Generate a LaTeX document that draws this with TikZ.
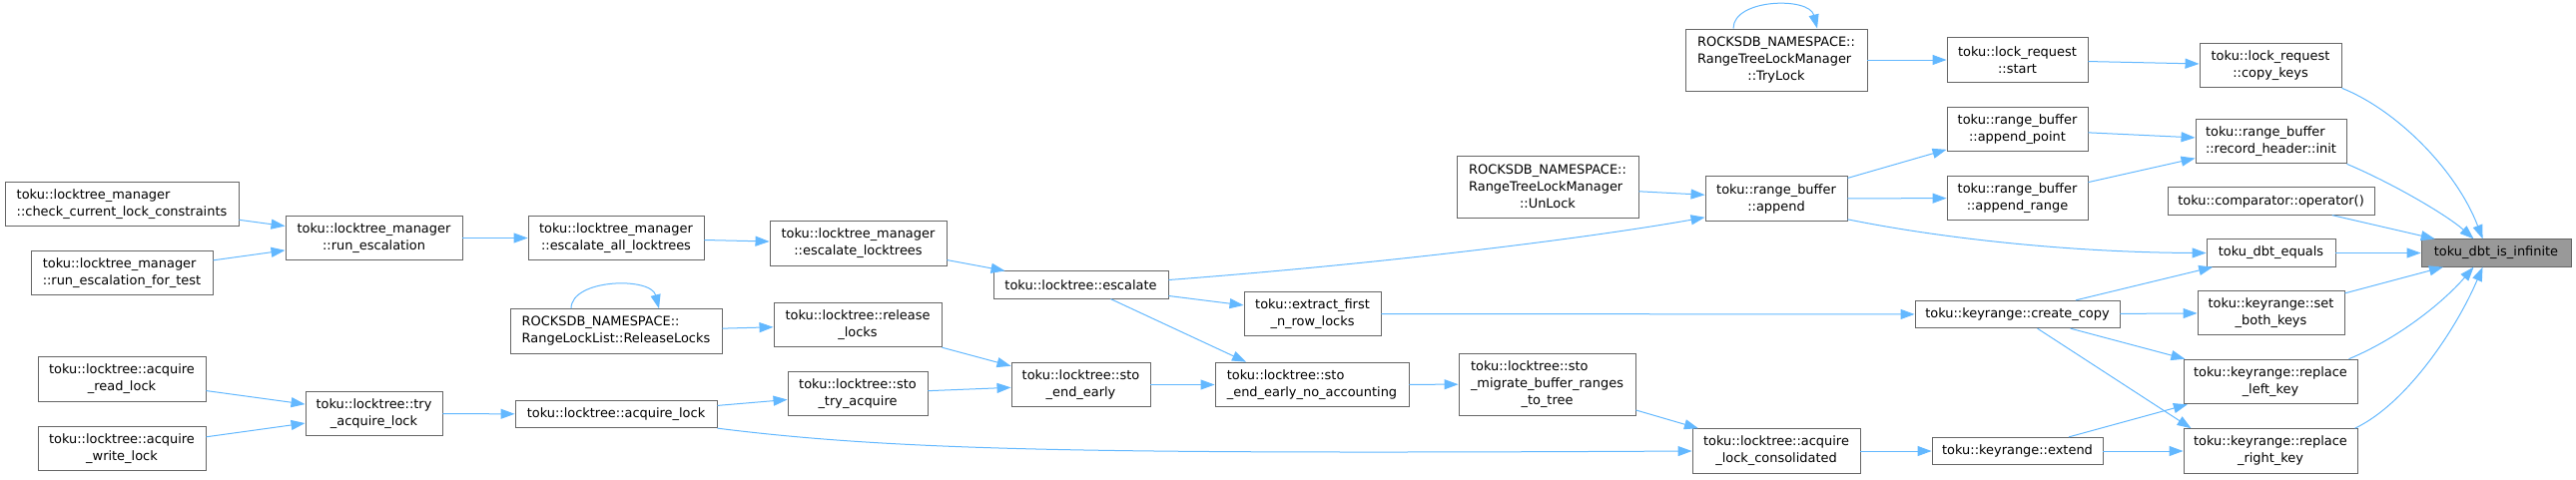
\documentclass[tikz,border=0pt]{standalone}
\usepackage{fontspec}
\setmainfont{DejaVu Sans}
\usepackage{calc}
\usetikzlibrary{arrows.meta,calc}
\definecolor{edgeblue}{HTML}{63B8FF}
\definecolor{boxgrey}{HTML}{666666}
\definecolor{hlgrey}{HTML}{999999}
\newcommand\fnfont{\fontsize{9.7}{12.75}\selectfont}
\tikzset{
	fn/.style = {draw = boxgrey, line width = 0.7pt, fill = white, inner xsep = 2pt, inner ysep = 1pt, minimum height = 20.5pt, font = \fnfont, align = center},
	tworow/.style = {minimum height = 33.5pt},
	threerow/.style = {minimum height = 46.5pt},
	hl/.style = {fill = hlgrey},
	call/.style = {draw = edgeblue, line width = 0.75pt, -{Triangle[length=10.5pt,width=7.5pt]}}
}
\begin{document}
\begin{tikzpicture}[x=0.75pt, y=-0.75pt]
	\useasboundingbox (0,0) rectangle (2580,480);
	\node [fn, tworow, align = left, minimum width = 175.5pt] (chk) at (122,204.5) {toku::locktree\_manager\\::check\_current\_lock\_constraints};
	\node [fn, tworow, align = left, minimum width = 136.5pt] (ret) at (122,273.5) {toku::locktree\_manager\\::run\_escalation\_for\_test};
	\node [fn, tworow, minimum width = 132.75pt] (res) at (374.5,238.5) {toku::locktree\_manager\\::run\_escalation};
	\node [fn, tworow, minimum width = 126pt] (ard) at (122,380) {toku::locktree::acquire\\\_read\_lock};
	\node [fn, tworow, minimum width = 126pt] (awr) at (122,449.5) {toku::locktree::acquire\\\_write\_lock};
	\node [fn, tworow, minimum width = 102.75pt] (tal) at (374.5,414.5) {toku::locktree::try\\\_acquire\_lock};
	\node [fn, tworow, minimum width = 132pt] (eal) at (617,238.5) {toku::locktree\_manager\\::escalate\_all\_locktrees};
	\node [fn, tworow, align = left, minimum width = 159pt] (rls) at (617,332) {ROCKSDB\_NAMESPACE::\\RangeLockList::ReleaseLocks};
	\node [fn, minimum width = 151.5pt] (acq) at (617,415) {toku::locktree::acquire\_lock};
	\node [fn, tworow, minimum width = 132.75pt] (elt) at (859.5,244) {toku::locktree\_manager\\::escalate\_locktrees};
	\node [fn, tworow, minimum width = 126pt] (rel) at (859,325.5) {toku::locktree::release\\\_locks};
	\node [fn, tworow, minimum width = 105pt] (sta) at (859,394.5) {toku::locktree::sto\\\_try\_acquire};
	\node [fn, minimum width = 131.25pt] (esc) at (1082.5,285.5) {toku::locktree::escalate};
	\node [fn, tworow, minimum width = 104.25pt] (see) at (1082.5,385.5) {toku::locktree::sto\\\_end\_early};
	\node [fn, tworow, minimum width = 102.75pt] (efr) at (1314.5,314.5) {toku::extract\_first\\\_n\_row\_locks};
	\node [fn, tworow, align = left, minimum width = 145.5pt] (sna) at (1314,385.5) {toku::locktree::sto\\\_end\_early\_no\_accounting};
	\node [fn, threerow, align = left, minimum width = 136.5pt] (unl) at (1550,187) {ROCKSDB\_NAMESPACE::\\RangeTreeLockManager\\\makebox[\widthof{ROCKSDB\_NAMESPACE::}]{::UnLock}};
	\node [fn, threerow, align = left, minimum width = 132.75pt] (smb) at (1549.5,385) {toku::locktree::sto\\\_migrate\_buffer\_ranges\\\makebox[\widthof{\_migrate\_buffer\_ranges}]{\_to\_tree}};
	\node [fn, threerow, align = left, minimum width = 136.5pt] (try) at (1779,60) {ROCKSDB\_NAMESPACE::\\RangeTreeLockManager\\\makebox[\widthof{ROCKSDB\_NAMESPACE::}]{::TryLock}};
	\node [fn, tworow, minimum width = 106.5pt] (app) at (1779,199) {toku::range\_buffer\\::append};
	\node [fn, tworow, minimum width = 126pt] (alc) at (1779,452) {toku::locktree::acquire\\\_lock\_consolidated};
	\node [fn, tworow, minimum width = 105.75pt] (lrs) at (2020.5,60) {toku::lock\_request\\::start};
	\node [fn, tworow, minimum width = 105.75pt] (apt) at (2020.5,129.5) {toku::range\_buffer\\::append\_point};
	\node [fn, tworow, minimum width = 105.75pt] (arg) at (2020.5,198.5) {toku::range\_buffer\\::append\_range};
	\node [fn, minimum width = 153.75pt] (ccp) at (2020.5,315) {toku::keyrange::create\_copy};
	\node [fn, minimum width = 128.25pt] (ext) at (2020.5,452) {toku::keyrange::extend};
	\node [fn, tworow, minimum width = 106.5pt] (cpk) at (2274,65.5) {toku::lock\_request\\::copy\_keys};
	\node [fn, tworow, align = left, minimum width = 113.25pt] (rhi) at (2274.5,141.5) {toku::range\_buffer\\::record\_header::init};
	\node [fn, minimum width = 155.25pt] (cmp) at (2274.5,201.5) {toku::comparator::operator()};
	\node [fn, minimum width = 96.75pt] (deq) at (2274.5,253.5) {toku\_dbt\_equals};
	\node [fn, tworow, minimum width = 110.25pt] (sbk) at (2274.5,313.5) {toku::keyrange::set\\\_both\_keys};
	\node [fn, tworow, minimum width = 130.5pt] (rlk) at (2274,382.5) {toku::keyrange::replace\\\_left\_key};
	\node [fn, tworow, minimum width = 130.5pt] (rrk) at (2274,452) {toku::keyrange::replace\\\_right\_key};
	\node [fn, hl, minimum width = 112.5pt] (inf) at (2500,253.5) {toku\_dbt\_is\_infinite};
	\draw [call] (chk) -- (res);
	\draw [call] (ret) -- (res);
	\draw [call] (res) -- (eal);
	\draw [call] (eal) -- (elt);
	\draw [call] (elt) -- (esc);
	\draw [call] ($(esc.east)+(0,-5)$) .. controls (1400,263) and (1600,237) .. ($(app.south west)+(0,-4)$);
	\draw [call] (esc) -- (efr);
	\draw [call] ($(esc.south)+(30,0)$) -- ($(sna.north)+(-66,0)$);
	\draw [call] ($(rls.north)+(-45,0)$) .. controls +(0,-30) and +(-8,-32) .. ($(rls.north)+(43,0)$);
	\draw [call] (rls) -- (rel);
	\draw [call] (rel) -- (see);
	\draw [call] (sta) -- (see);
	\draw [call] (see) -- (sna);
	\draw [call] (sna) -- (smb);
	\draw [call] (smb) -- (alc);
	\draw [call] (ard) -- (tal);
	\draw [call] (awr) -- (tal);
	\draw [call] (tal) -- (acq);
	\draw [call] (acq) -- (sta);
	\draw [call] (acq.south east) .. controls (900,452) and (1100,455) .. (alc.west);
	\draw [call] (efr) -- (ccp);
	\draw [call] (unl) -- (app);
	\draw [call] ($(try.north)+(-43,0)$) .. controls +(0,-30) and +(-8,-32) .. ($(try.north)+(41,0)$);
	\draw [call] (try) -- (lrs);
	\draw [call] (lrs) -- (cpk);
	\draw [call] (app) -- (apt);
	\draw [call] (app) -- (arg);
	\draw [call] ($(app.south east)+(0,-2)$) .. controls (1950,240) and (2080,253) .. (deq.west);
	\draw [call] (apt) -- (rhi);
	\draw [call] (arg) -- (rhi);
	\draw [call] (alc) -- (ext);
	\draw [call] (ccp) -- (deq);
	\draw [call] (ccp) -- (sbk);
	\draw [call] (ccp) -- (rlk);
	\draw [call] ($(ccp.south)+(20,0)$) -- ($(rrk.north west)+(8,0)$);
	\draw [call] (ext) -- (rlk);
	\draw [call] (ext) -- (rrk);
	\draw [call] (cpk.south east) .. controls (2400,110) and (2460,170) .. ($(inf.north west)+(62,0)$);
	\draw [call] (rhi.south east) .. controls (2395,183) and (2450,215) .. ($(inf.north west)+(53,0)$);
	\draw [call] (cmp) -- (inf);
	\draw [call] (deq) -- (inf);
	\draw [call] (sbk) -- (inf);
	\draw [call] ($(rlk.north east)+(-9,0)$) .. controls (2400,340) and (2445,305) .. ($(inf.south west)+(53,0)$);
	\draw [call] ($(rrk.north east)+(-3,0)$) .. controls (2410,405) and (2460,330) .. ($(inf.south west)+(62,0)$);
\end{tikzpicture}
\end{document}
